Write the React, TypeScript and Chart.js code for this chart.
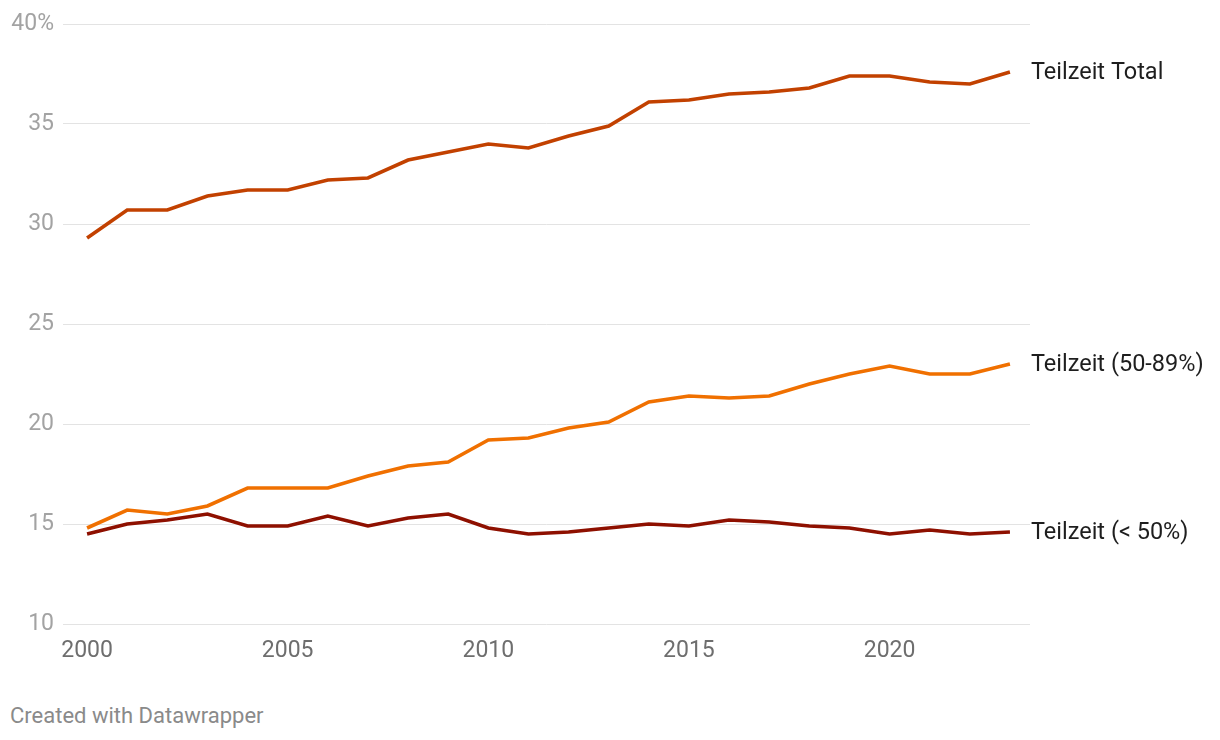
import React, { useEffect, useRef } from "react";
import { Chart, registerables } from "chart.js";

Chart.register(...registerables);

const years = [2000, 2001, 2002, 2003, 2004, 2005, 2006, 2007, 2008, 2009, 2010, 2011, 2012, 2013, 2014, 2015, 2016, 2017, 2018, 2019, 2020, 2021, 2022, 2023];
const teilzeitTotal = [29.3, 30.7, 30.7, 31.4, 31.7, 31.7, 32.2, 32.3, 33.2, 33.6, 34.0, 33.8, 34.4, 34.9, 36.1, 36.2, 36.5, 36.6, 36.8, 37.4, 37.4, 37.1, 37.0, 37.6];
const teilzeit5089 = [14.8, 15.7, 15.5, 15.9, 16.8, 16.8, 16.8, 17.4, 17.9, 18.1, 19.2, 19.3, 19.8, 20.1, 21.1, 21.4, 21.3, 21.4, 22.0, 22.5, 22.9, 22.5, 22.5, 23.0];
const teilzeitUnter50 = [14.5, 15.0, 15.2, 15.5, 14.9, 14.9, 15.4, 14.9, 15.3, 15.5, 14.8, 14.5, 14.6, 14.8, 15.0, 14.9, 15.2, 15.1, 14.9, 14.8, 14.5, 14.7, 14.5, 14.6];
const seriesNames = ["Teilzeit Total", "Teilzeit (50-89%)", "Teilzeit (< 50%)"];
const seriesColors = ["#c24100", "#f07000", "#8e1000"];
const xTicks = [2000, 2005, 2010, 2015, 2020];
const yTicks = [10, 15, 20, 25, 30, 35, 40];

const FONT = "Roboto, 'Noto Sans', sans-serif";

const endLabels = {
  id: "endLabels",
  afterDatasetsDraw(chart: any) {
    const ctx = chart.ctx;
    ctx.save();
    ctx.font = `23.5px ${FONT}`;
    ctx.fillStyle = "#1e1e1e";
    ctx.textAlign = "left";
    ctx.textBaseline = "middle";
    chart.data.datasets.forEach((ds: any, i: number) => {
      const meta = chart.getDatasetMeta(i);
      const pt = meta.data[meta.data.length - 1];
      if (pt) ctx.fillText(ds.label, pt.x + 21, pt.y + 1);
    });
    ctx.restore();
  },
};

export default function App() {
  const ref = useRef<HTMLCanvasElement>(null);
  useEffect(() => {
    const series = [teilzeitTotal, teilzeit5089, teilzeitUnter50];
    const chart = new Chart(ref.current as HTMLCanvasElement, {
      type: "line",
      data: {
        datasets: series.map((s, i) => ({
          label: seriesNames[i],
          data: s.map((v, j) => ({ x: years[j], y: v })),
          borderColor: seriesColors[i],
          backgroundColor: seriesColors[i],
          borderWidth: 3.6,
          pointRadius: 0,
          tension: 0,
          fill: false,
        })),
      },
      options: {
        animation: false,
        responsive: false,
        maintainAspectRatio: false,
        layout: { padding: { top: 24, right: 190, bottom: 14, left: 0 } },
        plugins: { legend: { display: false }, tooltip: { enabled: false } },
        scales: {
          x: {
            type: "linear",
            min: 1999.4,
            max: 2023.5,
            grid: { display: false, drawTicks: false },
            border: { display: false },
            afterBuildTicks: (scale: any) => {
              scale.ticks = xTicks.map((v) => ({ value: v }));
            },
            afterFit: (scale: any) => {
              scale.height = 42;
            },
            ticks: {
              color: "#6e6e6e",
              font: { family: FONT, size: 23 },
              padding: 13,
              maxRotation: 0,
              callback: (v: any) => String(v),
            },
          },
          y: {
            min: 10,
            max: 40,
            grid: { color: "#e3e3e3", lineWidth: 1, drawTicks: false },
            border: { display: false },
            afterBuildTicks: (scale: any) => {
              scale.ticks = yTicks.map((v) => ({ value: v }));
            },
            afterFit: (scale: any) => {
              scale.width = 63;
            },
            ticks: {
              color: "#a3a3a3",
              font: { family: FONT, size: 23 },
              padding: 9,
              callback: (v: any) => (v === 40 ? "40%" : String(v)),
            },
          },
        },
      },
      plugins: [endLabels],
    } as any);
    return () => chart.destroy();
  }, []);

  return (
    <div style={{ position: "absolute", left: 0, top: 0, width: 1220, height: 740, background: "#fff" }}>
      <canvas ref={ref} width={1220} height={680} style={{ display: "block", width: 1220, height: 680 }} />
      <div
        style={{
          position: "absolute",
          left: 10,
          top: 702,
          fontFamily: FONT,
          fontSize: 22,
          color: "#8a8a8a",
          lineHeight: "28px",
        }}
      >
        Created with Datawrapper
      </div>
    </div>
  );
}
